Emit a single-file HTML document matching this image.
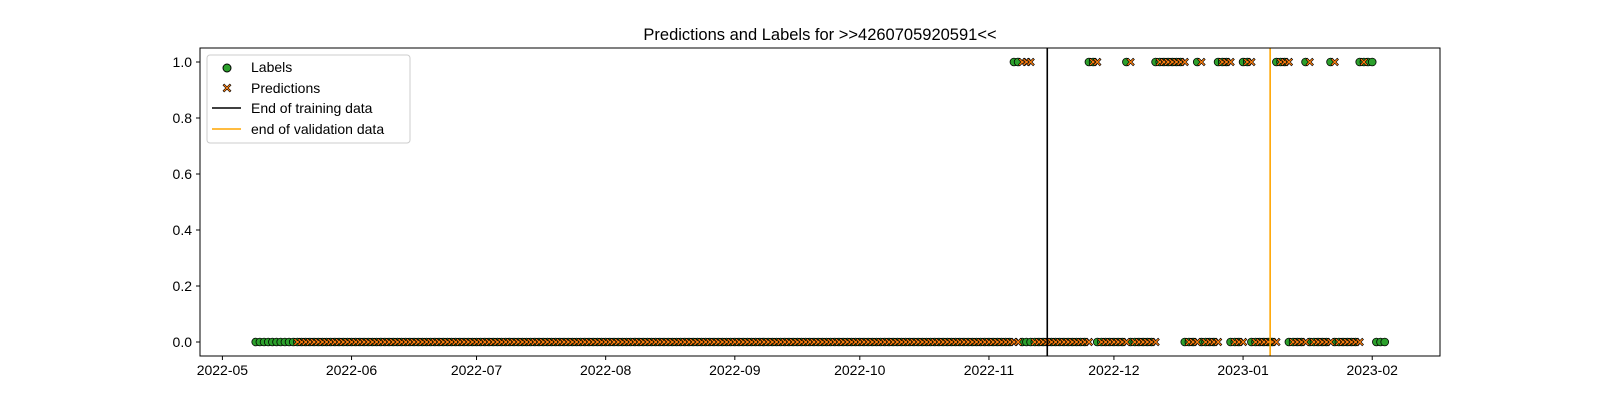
<!DOCTYPE html>
<html><head><meta charset="utf-8"><style>
body{margin:0;background:#fff;}
svg{display:block;font-family:"Liberation Sans","DejaVu Sans",sans-serif;}
</style></head><body>
<svg id="chart" width="1600" height="400" viewBox="0 0 1600 400">
<rect width="1600" height="400" fill="#fff"/>
<text x="820" y="40" font-size="16.5" text-anchor="middle">Predictions and Labels for &gt;&gt;4260705920591&lt;&lt;</text>
<g id="marks"></g>
<g id="axes"></g>
<rect x="200" y="48" width="1240" height="308" fill="none" stroke="#000" stroke-width="1"/>
<g>
<rect x="207" y="55" width="203" height="88" fill="#fff" fill-opacity="0.85" stroke="#ccc" rx="3"/>
<g><circle cx="227" cy="68" r="4" fill="#2ca02c" stroke="#000" stroke-width="1"/><text x="251" y="72" font-size="14">Labels</text></g>
<g><path d="M223,85.2 L224.2,84 L227,86.8 L229.8,84 L231,85.2 L228.2,88 L231,90.8 L229.8,92 L227,89.2 L224.2,92 L223,90.8 L225.8,88 Z" fill="#ff7f0e" stroke="#000" stroke-width="0.6"/><text x="251" y="93" font-size="14">Predictions</text></g>
<g><line x1="212" y1="108" x2="241" y2="108" stroke="#000" stroke-width="1.6"/><text x="251" y="113" font-size="14">End of training data</text></g>
<g><line x1="212" y1="129" x2="241" y2="129" stroke="orange" stroke-width="1.6"/><text x="251" y="134" font-size="14">end of validation data</text></g>
</g>
</svg>
<script>
// days counted from 2022-05-01
const labelStart = 8, labelEnd = 279;
const predStart = 18, predEnd = 274;
const labelOnes = [190,191,208,209,217,224,225,226,227,228,229,230,234,239,240,241,245,246,253,254,255,260,266,273,274,275,276];
const predOnes = [192,193,194,209,210,218,225,226,227,228,229,230,231,235,240,241,242,246,247,254,255,256,261,267,274];
const trainEndDay = 198;
const valEndDay = 251.5;
const xTickDays = [0,31,61,92,123,153,184,214,245,276];
const xTickLabels = ["2022-05","2022-06","2022-07","2022-08","2022-09","2022-10","2022-11","2022-12","2023-01","2023-02"];
const yTicks = [0,0.2,0.4,0.6,0.8,1.0];

const NS="http://www.w3.org/2000/svg";
const xS = d => 222.4 + d*4.166;
const yS = v => 342 - v*280;
const marks=document.getElementById('marks'), axes=document.getElementById('axes');
function mk(tag,attrs,parent){const e=document.createElementNS(NS,tag);for(const k in attrs)e.setAttribute(k,attrs[k]);parent.appendChild(e);return e;}
const lset=new Set(labelOnes), pset=new Set(predOnes);
for(let d=labelStart; d<=labelEnd; d++){
  const v=lset.has(d)?1:0;
  const c=mk('circle',{cx:xS(d),cy:yS(v),r:3.9,fill:'#2ca02c',stroke:'#000','stroke-width':0.8},marks);
  
  
}
for(let d=predStart; d<=predEnd; d++){
  const v=pset.has(d)?1:0;
  const x=xS(d), y=yS(v), a=3.8, b=1.3;
  const p=mk('path',{d:`M${x-a},${y-a+b} L${x-a+b},${y-a} L${x},${y-b} L${x+a-b},${y-a} L${x+a},${y-a+b} L${x+b},${y} L${x+a},${y+a-b} L${x+a-b},${y+a} L${x},${y+b} L${x-a+b},${y+a} L${x-a},${y+a-b} L${x-b},${y} Z`,fill:'#ff7f0e',stroke:'#000','stroke-width':0.6},marks);
  
  
}
const tl=mk('line',{x1:xS(trainEndDay),x2:xS(trainEndDay),y1:48,y2:356,stroke:'#000','stroke-width':1.6},marks);


const vl=mk('line',{x1:xS(valEndDay),x2:xS(valEndDay),y1:48,y2:356,stroke:'orange','stroke-width':1.6},marks);


xTickDays.forEach((d,i)=>{
  const x=xS(d);
  mk('line',{x1:x,x2:x,y1:356,y2:360,stroke:'#000'},axes);
  const t=mk('text',{x:x,y:375,'font-size':14,'text-anchor':'middle'},axes);
  t.textContent=xTickLabels[i];
  
  
});
yTicks.forEach(v=>{
  const y=yS(v);
  mk('line',{x1:196,x2:200,y1:y,y2:y,stroke:'#000'},axes);
  const t=mk('text',{x:192,y:y+5,'font-size':14,'text-anchor':'end'},axes);
  t.textContent=v.toFixed(1);
  
  
});
</script>
</body></html>
